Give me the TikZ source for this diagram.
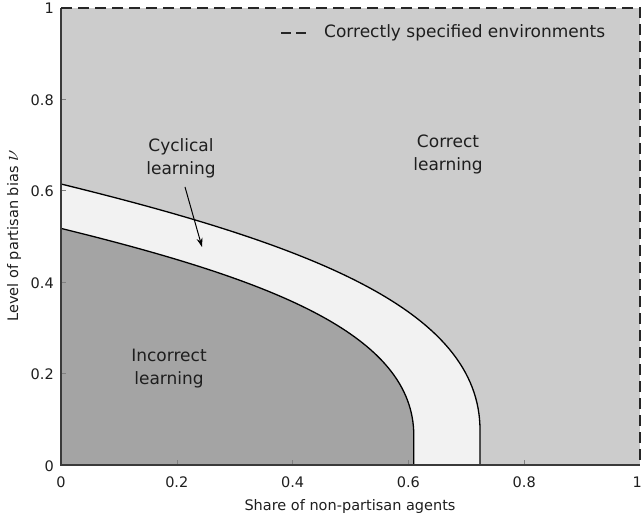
\documentclass[tikz,border=0pt]{standalone}
\usepackage{fontspec}
\setmainfont{DejaVu Sans}
\usetikzlibrary{arrows.meta}
\definecolor{correctgray}{HTML}{CCCCCC}
\definecolor{bandgray}{HTML}{F2F2F2}
\definecolor{wronggray}{HTML}{A4A4A4}
\definecolor{axisgray}{HTML}{3A3A3A}
\definecolor{textgray}{HTML}{1E1E1E}
\begin{document}
\begin{tikzpicture}[x=1pt,y=-1pt,
  region/.style={font=\fontsize{17}{23}\selectfont, align=center, text=textgray, inner sep=0pt},
  ticklbl/.style={font=\fontsize{14.5}{17}\selectfont, text=textgray, inner sep=0pt},
  axlbl/.style={font=\fontsize{14.5}{17}\selectfont, text=textgray, inner sep=0pt},
  curve/.style={line width=1.3pt, black},
  axisline/.style={line width=1.6pt, axisgray},
  envline/.style={line width=1.8pt, black!85, dash pattern=on 11pt off 6pt},
  tickmark/.style={line width=0.6pt, gray}]
\useasboundingbox (0,0) rectangle (642,521);
% regions
\fill[correctgray] (61,8) rectangle (640,465);
\fill[bandgray] (61,184) .. controls (311,245.3) and (480,310) .. (480,430) -- (480,465) -- (61,465) -- cycle;
\fill[wronggray] (61,228.4) .. controls (271.5,280.0) and (413.8,334.5) .. (413.8,435.5) -- (413.8,465) -- (61,465) -- cycle;
% boundary curves
\draw[curve] (61,184) .. controls (311,245.3) and (480,310) .. (480,430) -- (480,465);
\draw[curve] (61,228.4) .. controls (271.5,280.0) and (413.8,334.5) .. (413.8,435.5) -- (413.8,465);
% ticks
\foreach \k in {1,2,3,4} {
  \draw[tickmark] ({61+115.8*\k},465) -- ++(0,-5);
  \draw[tickmark] (61,{465-91.4*\k}) -- ++(5,0);
}
% axes
\draw[axisline] (61,8) -- (61,465) -- (640,465);
\draw[envline] (61,8) -- (640,8) -- (640,465);
% tick labels
\node[ticklbl] (x0) at (61,482) {0};
\node[ticklbl] (x2) at (176.8,482) {0.2};
\node[ticklbl] (x4) at (292.6,482) {0.4};
\node[ticklbl] (x6) at (408.4,482) {0.6};
\node[ticklbl] (x8) at (524.2,482) {0.8};
\node[ticklbl, anchor=east] (x10) at (642,482) {1};
\node[ticklbl, anchor=east] (y0) at (54,466) {0};
\node[ticklbl, anchor=east] (y2) at (54,374) {0.2};
\node[ticklbl, anchor=east] (y4) at (54,283) {0.4};
\node[ticklbl, anchor=east] (y6) at (54,191) {0.6};
\node[ticklbl, anchor=east] (y8) at (54,100) {0.8};
\node[ticklbl, anchor=east] (y10) at (54,8) {1};
% axis labels
\node[axlbl] (xlab) at (350,506) {Share of non-partisan agents};
\node[axlbl, rotate=90] (ylab) at (14,236) {Level of partisan bias {\fontsize{20}{20}\selectfont$\nu$}};
% legend
\coordinate (legA) at (281,33);
\coordinate (legB) at (308,33);
\draw[line width=1.8pt, black!85, dash pattern=on 10pt off 5pt] (legA) -- (legB);
\node[region, anchor=west] (legtxt) at (324,33) {Correctly specified environments};
% region labels
\node[region] (cyc) at (181,158) {Cyclical\\learning};
\node[region] (cor) at (448,154) {Correct\\learning};
\node[region] (inc) at (169,369) {Incorrect\\learning};
\coordinate (cycTail) at (185,187);
\coordinate (cycTip) at (202,247);
\draw[line width=1pt, -{Stealth[length=9pt,width=6pt]}] (cycTail) -- (cycTip);
\end{tikzpicture}
\end{document}
